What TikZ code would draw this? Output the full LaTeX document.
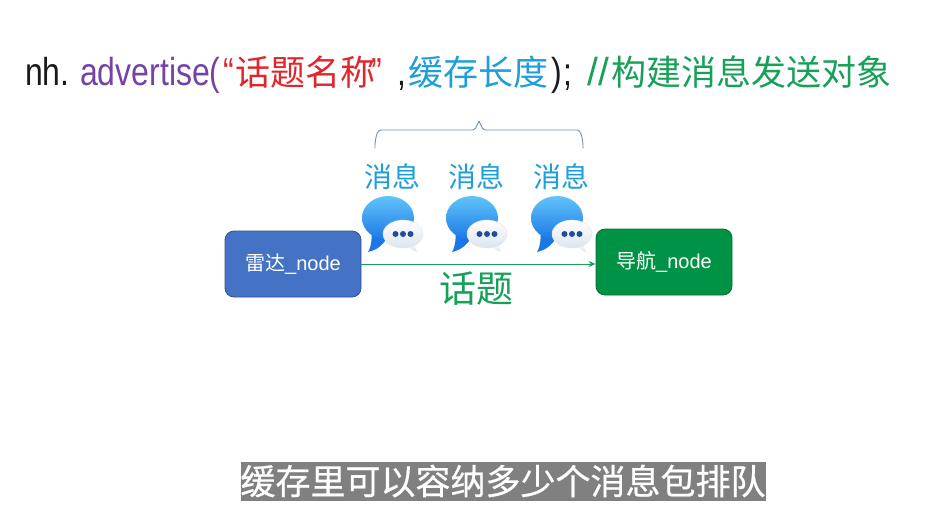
\documentclass[tikz,border=0pt]{standalone}
\usepackage{fontspec}
\usetikzlibrary{arrows.meta}
\setmainfont{Liberation Sans}
\newfontfamily\cjk{Noto Sans CJK SC}
\newfontfamily\latinf[FakeStretch=0.82]{Liberation Sans}
\newfontfamily\subfont[FakeBold=0.6]{Noto Sans CJK SC}
\definecolor{cpurple}{HTML}{7343A6}
\definecolor{cred}{HTML}{E0262B}
\definecolor{cblue}{HTML}{1E9FD9}
\definecolor{cgreen}{HTML}{18A058}
\definecolor{cblack}{HTML}{1A1A1A}
\definecolor{bracec}{HTML}{6F8FB8}
\definecolor{radarfill}{HTML}{4472C4}
\definecolor{radardraw}{HTML}{2F528F}
\definecolor{navfill}{HTML}{009245}
\definecolor{navdraw}{HTML}{0B6B35}
\definecolor{bubtop}{HTML}{62C4FA}
\definecolor{bubbot}{HTML}{1A78E6}
\definecolor{dotblue}{HTML}{1F4E9A}
\definecolor{whitebot}{HTML}{DCE4EE}
\definecolor{subgray}{HTML}{808080}
\begin{document}
\begin{tikzpicture}[x=1pt,y=-1pt,
  lat/.style={anchor=base west, inner sep=0pt, font=\latinf\fontsize{39}{39}\selectfont},
  han/.style={anchor=base west, inner sep=0pt, font=\cjk\fontsize{35}{35}\selectfont},
  box/.style={draw, line width=0.8pt, rounded corners=9pt, minimum width=136pt,
    minimum height=66pt, text=white, font=\fontsize{20}{20}\selectfont, inner sep=0pt},
  msglabel/.style={text=cblue, font=\cjk\fontsize{28}{28}\selectfont, inner sep=0pt},
  flow/.style={draw=cgreen, line width=1pt, -{Stealth[length=7pt,width=6pt]}}]
\useasboundingbox[fill=white] (0,0) rectangle (934,504);
% top code line
\node[lat, text=cblack] (c1) at (25,85) {nh.};
\node[lat, text=cpurple] (c2) at (80,85) {advertise(};
\node[lat, text=cred] (c3) at (223,85) {“};
\node[han, text=cred] (c4) at (235,85) {话题名称};
\node[lat, text=cred] (c5) at (371,85) {”};
\node[lat, text=cblack] (c6) at (397,85) {,};
\node[han, text=cblue] (c7) at (408,85) {缓存长度};
\node[lat, text=cblack] (c8) at (551,85) {)\kern2pt;};
\node[lat, text=cgreen, font=\fontsize{39}{39}\selectfont] (c9) at (587,85) {//};
\node[han, text=cgreen] (c10) at (611,85) {构建消息发送对象};
% brace
\draw[bracec, line width=0.9pt] (375,147) to[out=-90,in=180] (381,130) -- (473,130)
  to[out=0,in=90] (479,122) to[out=90,in=180] (485,130) -- (577,130) to[out=0,in=-90] (583,147);
% message labels
\node[msglabel] (m1) at (392,177) {消息};
\node[msglabel] (m2) at (476,177) {消息};
\node[msglabel] (m3) at (561,177) {消息};
% message icons
\foreach \x in {392,476,561} {
  \fill[bubbot] (\x-21,228) .. controls (\x-20,238) and (\x-20,245) .. (\x-24,252)
     .. controls (\x-15,250) and (\x-9,245) .. (\x-5,238) -- cycle;
  \shade[top color=bubtop, bottom color=bubbot] (\x-4,218) ellipse (26 and 22);
  \shade[top color=white, bottom color=whitebot] (\x+16,244) .. controls (\x+18,249) and (\x+21,251) .. (\x+25,252)
     .. controls (\x+23,249) and (\x+23,246) .. (\x+24,242) -- cycle;
  \shade[top color=white, bottom color=whitebot, draw=black!10, line width=0.4pt] (\x+11,234) ellipse (20 and 14);
  \fill[dotblue] (\x+3.5,234) circle (3) (\x+11,234) circle (3) (\x+18.5,234) circle (3);
}
% nodes
\node[box, fill=radarfill, draw=radardraw] (radar) at (293,264) {{\cjk 雷达}\_node};
\node[box, fill=navfill, draw=navdraw] (nav) at (664,262) {{\cjk 导航}\_node};
\draw[flow] (radar.east) -- (radar.east -| nav.west);
\node[text=cgreen, font=\cjk\fontsize{37}{37}\selectfont, inner sep=0pt] (topic) at (476,289) {话题};
% subtitle
\node[fill=subgray, minimum width=522pt, minimum height=39pt, inner sep=0pt,
  text=white, font=\subfont\fontsize{35}{35}\selectfont] (sub) at (503,481) {缓存里可以容纳多少个消息包排队};
\end{tikzpicture}
\end{document}
